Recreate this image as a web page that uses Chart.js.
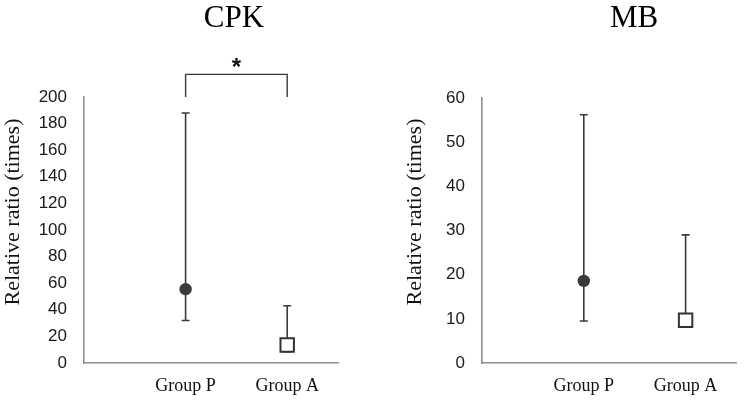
<!DOCTYPE html>
<html>
<head>
<meta charset="utf-8">
<script src="https://cdn.jsdelivr.net/npm/chart.js@4/dist/chart.umd.min.js"></script>
<style>
  body { margin: 0; background: #fff; }
  .wrap { display: flex; width: 748px; height: 400px; }
  canvas { display: block; }
</style>
</head>
<body>
<div class="wrap">
  <canvas id="cpkChart" width="374" height="400"></canvas>
  <canvas id="mbChart" width="374" height="400"></canvas>
</div>
<script>
// data
const groups = ["Group P", "Group A"];
const cpkMedian = [55.5, 13.5];
const cpkLow = [32, 8.5];
const cpkHigh = [188, 43];
const mbMedian = [18.6, 9.7];
const mbLow = [9.5, 9.5];
const mbHigh = [56.2, 29];
const cpkTicks = [0, 20, 40, 60, 80, 100, 120, 140, 160, 180, 200];
const mbTicks = [0, 10, 20, 30, 40, 50, 60];
const yTitle = "Relative ratio (times)";

const dark = "#3a3a3a";
const axisGray = "#8f8f8f";
const serif = "'Liberation Serif', 'Times New Roman', serif";

// whiskers drawn behind the markers
const errorBars = {
  id: "errorBars",
  beforeDatasetsDraw(chart, args, opts) {
    const { ctx, scales } = chart;
    ctx.save();
    ctx.strokeStyle = dark;
    ctx.lineWidth = 1.6;
    opts.low.forEach((lo, i) => {
      const x = scales.x.getPixelForValue(i + 1);
      const yl = scales.y.getPixelForValue(lo);
      const yh = scales.y.getPixelForValue(opts.high[i]);
      ctx.beginPath();
      ctx.moveTo(x, yl); ctx.lineTo(x, yh);
      ctx.moveTo(x - 4, yl); ctx.lineTo(x + 4, yl);
      ctx.moveTo(x - 4, yh); ctx.lineTo(x + 4, yh);
      ctx.stroke();
    });
    ctx.restore();
  }
};

// chart title, y axis title and significance bracket
const decorations = {
  id: "decorations",
  afterDraw(chart, args, opts) {
    const { ctx, scales } = chart;
    ctx.save();
    ctx.fillStyle = "#000";
    ctx.font = "31px " + serif;
    ctx.textAlign = "center";
    ctx.textBaseline = "alphabetic";
    ctx.fillText(opts.title, opts.titleX, 27);

    ctx.save();
    ctx.translate(opts.yTitleX, opts.yTitleY);
    ctx.rotate(-Math.PI / 2);
    ctx.fillStyle = "#111";
    ctx.font = "22px " + serif;
    ctx.textBaseline = "middle";
    ctx.fillText(yTitle, 0, 0);
    ctx.restore();

    if (opts.bracket) {
      const x1 = scales.x.getPixelForValue(1);
      const x2 = scales.x.getPixelForValue(2);
      const yb = scales.y.getPixelForValue(opts.bracket[0]);
      const yt = scales.y.getPixelForValue(opts.bracket[1]);
      ctx.strokeStyle = dark;
      ctx.lineWidth = 1.4;
      ctx.beginPath();
      ctx.moveTo(x1, yb); ctx.lineTo(x1, yt); ctx.lineTo(x2, yt); ctx.lineTo(x2, yb);
      ctx.stroke();
      ctx.fillStyle = "#111";
      ctx.font = "bold 24px 'Liberation Sans', Arial, sans-serif";
      ctx.fillText("*", (x1 + x2) / 2, yt + 1);
    }
    ctx.restore();
  }
};

function makeChart(id, median, low, high, ticks, cfg) {
  const ctx = document.getElementById(id).getContext("2d");
  return new Chart(ctx, {
    type: "scatter",
    data: {
      datasets: [
        {
          data: [{ x: 1, y: median[0] }],
          pointStyle: "circle",
          pointRadius: 6.2,
          backgroundColor: dark,
          borderColor: dark,
          borderWidth: 0
        },
        {
          data: [{ x: 2, y: median[1] }],
          pointStyle: "rect",
          pointRadius: 9.5,
          backgroundColor: "#fff",
          borderColor: "#333",
          borderWidth: 2
        }
      ]
    },
    options: {
      responsive: false,
      animation: false,
      layout: { padding: { top: cfg.top, left: 0, right: cfg.right, bottom: 0 } },
      plugins: {
        legend: { display: false },
        tooltip: { enabled: false },
        errorBars: { low: low, high: high },
        decorations: {
          title: cfg.title, titleX: cfg.titleX, bracket: cfg.bracket,
          yTitleX: cfg.yTitleX, yTitleY: 212
        }
      },
      scales: {
        x: {
          type: "linear",
          min: 0,
          max: 2.5,
          afterBuildTicks: (scale) => { scale.ticks = [{ value: 1 }, { value: 2 }]; },
          afterFit: (scale) => { scale.height = 37; },
          grid: { display: false, drawTicks: false },
          border: { display: true, color: axisGray, width: 1.6 },
          ticks: {
            callback: (v) => groups[v - 1] || "",
            color: "#111",
            padding: 12,
            maxRotation: 0,
            font: { family: serif, size: 18 }
          }
        },
        y: {
          min: ticks[0],
          max: ticks[ticks.length - 1],
          afterBuildTicks: (scale) => { scale.ticks = ticks.map((v) => ({ value: v })); },
          afterFit: (scale) => { scale.width = cfg.yWidth; },
          grid: { display: false, drawTicks: false },
          border: { display: true, color: axisGray, width: 1.6 },
          ticks: {
            color: "#1a1a1a",
            padding: 17,
            font: { family: "'Liberation Sans', Arial, sans-serif", size: 17 }
          }
        }
      }
    },
    plugins: [errorBars, decorations]
  });
}

makeChart("cpkChart", cpkMedian, cpkLow, cpkHigh, cpkTicks,
  { top: 97, right: 36, yWidth: 84, title: "CPK", titleX: 234, yTitleX: 13, bracket: [200, 217] });
makeChart("mbChart", mbMedian, mbLow, mbHigh, mbTicks,
  { top: 98, right: 4, yWidth: 108, title: "MB", titleX: 260, yTitleX: 41, bracket: null });
</script>
</body>
</html>
